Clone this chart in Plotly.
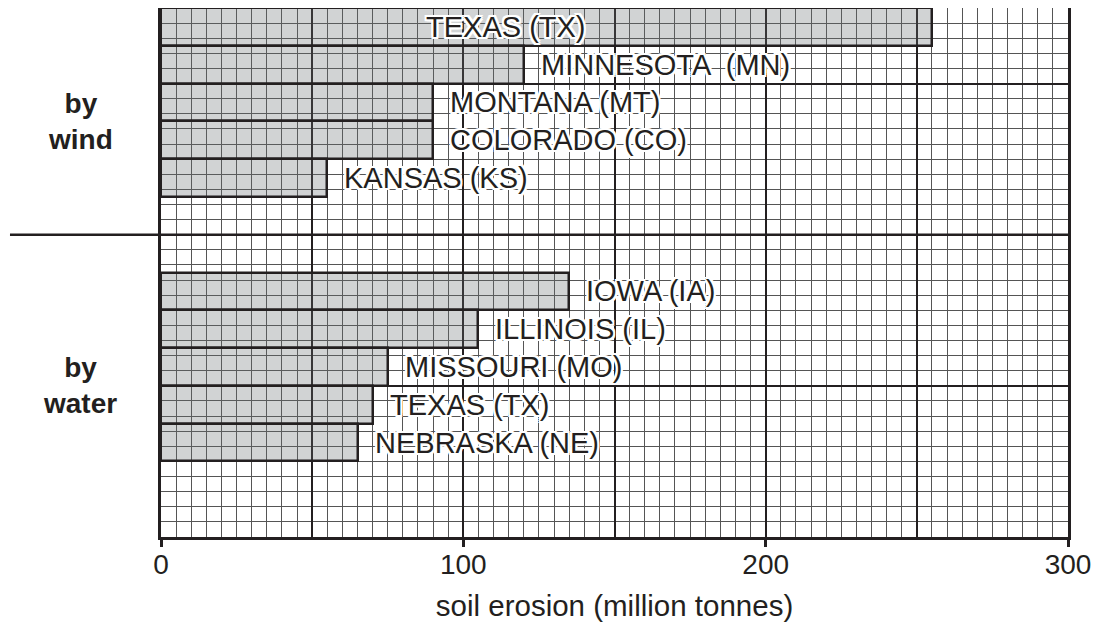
import plotly.graph_objects as go

# ---- data ----
wind_states = ["TEXAS (TX)", "MINNESOTA  (MN)", "MONTANA (MT)", "COLORADO (CO)", "KANSAS (KS)"]
wind_values = [255, 120, 90, 90, 55]
water_states = ["IOWA (IA)", "ILLINOIS (IL)", "MISSOURI (MO)", "TEXAS (TX)", "NEBRASKA (NE)"]
water_values = [135, 105, 75, 70, 65]
group_labels = ["by<br>wind", "by<br>water"]
x_ticks = [0, 100, 200, 300]
x_title = "soil erosion (million tonnes)"

# ---- layout parameters (grid units) ----
INK = "#231f20"
FONT = "Liberation Sans, Arial, sans-serif"
Y_MAX = 35
BAR_H = 2.5
WIND_TOP = 35
WATER_TOP = 17.5
SPLIT = 20

wind_y = [WIND_TOP - BAR_H / 2 - BAR_H * i for i in range(len(wind_values))]
water_y = [WATER_TOP - BAR_H / 2 - BAR_H * i for i in range(len(water_values))]

fig = go.Figure()
bar_style = dict(
    orientation="h",
    width=BAR_H,
    marker=dict(color="rgba(102,108,112,0.3)", line=dict(color=INK, width=2.5)),
    hoverinfo="skip",
    showlegend=False,
)
fig.add_trace(go.Bar(x=wind_values, y=wind_y, **bar_style))
fig.add_trace(go.Bar(x=water_values, y=water_y, **bar_style))
# invisible trace to carry the tick axis
fig.add_trace(go.Scatter(x=[0, 300], y=[0, 0], xaxis="x2", mode="markers",
                         marker=dict(opacity=0), hoverinfo="skip", showlegend=False))

halo = ("2px 0 0 #fff, -2px 0 0 #fff, 0 2px 0 #fff, 0 -2px 0 #fff, "
        "2px 2px 0 #fff, -2px -2px 0 #fff, 2px -2px 0 #fff, -2px 2px 0 #fff")
x_max = 300
for names, vals, ys in ((wind_states, wind_values, wind_y), (water_states, water_values, water_y)):
    for n, v, yy in zip(names, vals, ys):
        if v > x_max * 0.7:
            fig.add_annotation(x=v * 0.447, y=yy, text=n, showarrow=False, xanchor="center",
                               font=dict(family=FONT, size=29, color=INK, shadow=halo))
        else:
            fig.add_annotation(x=v, y=yy, text=n, showarrow=False, xanchor="left", xshift=15,
                               font=dict(family=FONT, size=29, color=INK, shadow=halo))

for lbl, yy in zip(group_labels, [(SPLIT + Y_MAX) / 2, SPLIT / 2]):
    fig.add_annotation(xref="paper", x=-0.0893, y=yy, text="<b>" + lbl + "</b>", showarrow=False,
                       xanchor="center", yanchor="middle", align="center",
                       font=dict(family=FONT, size=28, color=INK))

# separator line between groups
fig.add_shape(type="line", xref="paper", yref="y", x0=-0.1665, x1=1, y0=SPLIT, y1=SPLIT,
              line=dict(color=INK, width=2.5), layer="above")

fig.update_layout(
    width=1091, height=614,
    margin=dict(l=153, r=31, t=0, b=85, autoexpand=False),
    plot_bgcolor="white", paper_bgcolor="white",
    font=dict(family=FONT, color=INK),
    bargap=0,
    xaxis=dict(
        range=[0, 300], dtick=50, tick0=0,
        showgrid=True, gridcolor=INK, gridwidth=2,
        minor=dict(dtick=5, showgrid=True, gridcolor="#555", gridwidth=1),
        showticklabels=False, ticks="", zeroline=False,
        showline=True, linecolor=INK, linewidth=2.5, mirror=True,
    ),
    xaxis2=dict(
        overlaying="x", anchor="y", side="bottom", range=[0, 300],
        tickvals=x_ticks, ticktext=[str(t) for t in x_ticks],
        ticks="outside", ticklen=9, tickwidth=2.5, tickcolor=INK,
        ticklabelstandoff=-7, ticklabeloverflow="allow",
        tickfont=dict(family=FONT, size=28, color=INK),
        showgrid=False, zeroline=False, showline=False,
        title=dict(text=x_title, font=dict(family=FONT, size=29.5, color=INK), standoff=18),
    ),
    yaxis=dict(
        range=[0, Y_MAX], dtick=10, tick0=0,
        showgrid=True, gridcolor=INK, gridwidth=2,
        minor=dict(dtick=1, showgrid=True, gridcolor="#555", gridwidth=1),
        showticklabels=False, ticks="", zeroline=False,
        showline=True, linecolor=INK, linewidth=2.5, mirror=True,
    ),
)

fig.write_html("out.html")
